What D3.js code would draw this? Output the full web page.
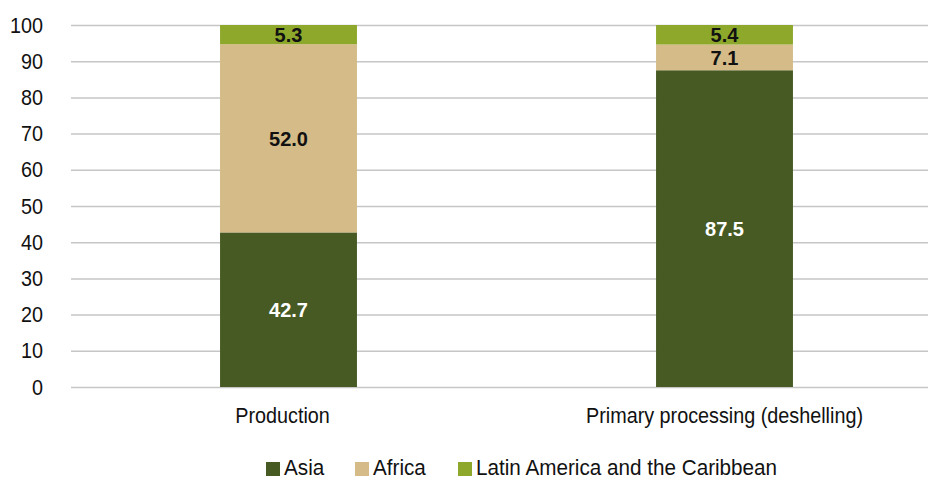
<!DOCTYPE html>
<html>
<head>
<meta charset="utf-8">
<script src="https://cdn.jsdelivr.net/npm/d3@7"></script>
<style>
  body { margin: 0; background: #fff; }
  svg text { font-family: "Liberation Sans", Arial, sans-serif; }
</style>
</head>
<body>
<svg id="chart" width="929" height="480"></svg>
<script>
const categories = [ "Production", "Primary processing (deshelling)" ];
const seriesNames = [ "Asia", "Africa", "Latin America and the Caribbean" ];
const asia = [ 42.7, 87.5 ];
const africa = [ 52.0, 7.1 ];
const latam = [ 5.3, 5.4 ];
const yTicks = [ 0, 10, 20, 30, 40, 50, 60, 70, 80, 90, 100 ];

const colors = [ "#475a24", "#d4bb87", "#8ea82c" ];
const labelColors = [ "#ffffff", "#111111", "#111111" ];

const svg = d3.select( "#chart" );
const MARGINS = { top: 25, bottom: 387, left: 71, right: 928 };

// narrow the glyphs horizontally, keeping each text's anchor point
const condense = k => sel => sel.each( function () {
  const t = d3.select( this );
  const x0 = +t.attr( "x" ) || 0;
  const y0 = +t.attr( "y" ) || 0;
  t.attr( "x", 0 ).attr( "y", 0 )
    .attr( "transform", `translate(${x0},${y0}) scale(${k},1)` );
} );

const rows = categories.map( ( c, i ) => ( {
  cat: c,
  Asia: asia[i],
  Africa: africa[i],
  "Latin America and the Caribbean": latam[i],
} ) );
const stacked = d3.stack().keys( seriesNames )( rows );

const y = d3.scaleLinear().domain( [ 0, 100 ] ).range( [ MARGINS.bottom, MARGINS.top ] );
const x = d3.scaleBand().domain( categories ).range( [ 70.5, 942.5 ] ).paddingInner( 0.686 ).paddingOuter( 0.343 );

// gridlines + y labels
const yAxis = d3.axisLeft( y ).tickValues( yTicks ).tickSize( -( MARGINS.right - MARGINS.left ) ).tickPadding( 28 );
const gy = svg.append( "g" )
  .attr( "transform", `translate(${MARGINS.left},0)` )
  .call( yAxis );
gy.select( ".domain" ).remove();
gy.selectAll( ".tick line" ).attr( "stroke", "#c6c6c6" ).attr( "stroke-width", 1.5 );
gy.selectAll( ".tick text" ).attr( "font-size", 22 ).attr( "fill", "#111" ).attr( "font-family", "Liberation Sans" ).call( condense( 0.9 ) );

// bars
const layers = svg.selectAll( "g.layer" )
  .data( stacked )
  .enter()
  .append( "g" )
  .attr( "class", "layer" )
  .attr( "fill", ( d, i ) => colors[i] );

layers.selectAll( "rect" )
  .data( d => d )
  .enter()
  .append( "rect" )
  .attr( "x", d => x( d.data.cat ) )
  .attr( "y", d => y( d[1] ) )
  .attr( "width", x.bandwidth() )
  .attr( "height", d => y( d[0] ) - y( d[1] ) );

layers.each( function ( s, si ) {
  d3.select( this ).selectAll( "text" )
    .data( s )
    .enter()
    .append( "text" )
    .attr( "x", d => x( d.data.cat ) + x.bandwidth() / 2 )
    .attr( "y", d => ( y( d[0] ) + y( d[1] ) ) / 2 )
    .attr( "dy", "0.36em" )
    .attr( "text-anchor", "middle" )
    .attr( "font-size", 20 )
    .attr( "font-weight", "bold" )
    .attr( "fill", labelColors[si] )
    .text( d => ( d[1] - d[0] ).toFixed( 1 ) );
} );

// x axis labels
const xAxis = d3.axisBottom( x ).tickSize( 0 ).tickPadding( 20 );
const gx = svg.append( "g" )
  .attr( "transform", `translate(0,${MARGINS.bottom})` )
  .call( xAxis );
gx.select( ".domain" ).remove();
gx.selectAll( ".tick text" ).attr( "font-size", 22 ).attr( "fill", "#111" ).attr( "font-family", "Liberation Sans" ).call( condense( 0.9 ) );
gx.selectAll( ".tick" ).filter( ( d, i ) => i === 0 ).select( "text" )
  .attr( "transform", function () { return d3.select( this ).attr( "transform" ).replace( /translate\(0,/, "translate(-6," ); } );

// legend
const legendX = [ 266, 355, 458 ];
const legend = svg.append( "g" );
seriesNames.forEach( ( name, i ) => {
  legend.append( "rect" )
    .attr( "x", legendX[i] )
    .attr( "y", 462 )
    .attr( "width", 14 )
    .attr( "height", 14 )
    .attr( "fill", colors[i] );
  legend.append( "text" )
    .attr( "x", legendX[i] + 18 )
    .attr( "y", 475 )
    .attr( "font-size", 22 )
    .attr( "fill", "#111" )
    .text( name )
    .call( condense( 0.94 ) );
} );
</script>
</body>
</html>
